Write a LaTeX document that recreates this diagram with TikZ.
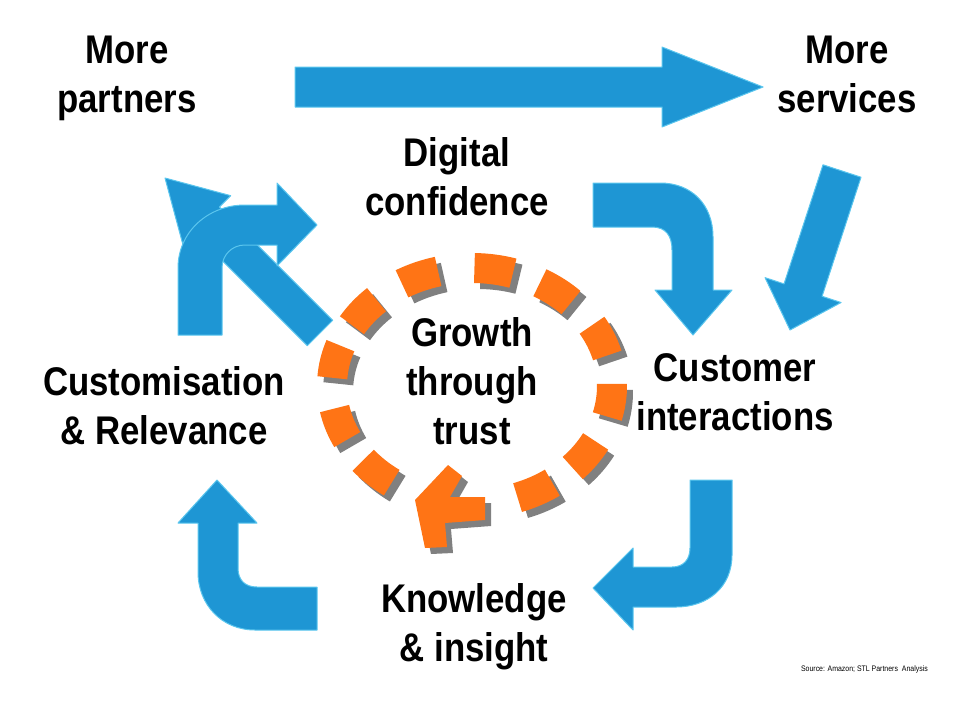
\documentclass[tikz,border=0pt]{standalone}
\usepackage{fontspec}
\setmainfont[FakeStretch=0.87]{Liberation Sans}
\usepackage{xcolor}
\usepackage{tikz}
\usetikzlibrary{positioning, calc}
\definecolor{cycleblue}{HTML}{1E96D4}
\definecolor{bevelblue}{HTML}{5BC6EE}
\definecolor{trustorange}{HTML}{FF7415}
\definecolor{dashgrey}{HTML}{808080}

\tikzset{
  cycletext/.style={font=\fontsize{40}{49}\selectfont\bfseries, align=center, inner sep=0pt},
  block arrow/.style={fill=cycleblue, draw=bevelblue, line width=1pt, line join=round},
  trust dash/.style={draw=trustorange, line width=30pt},
  trust shadow/.style={draw=dashgrey, line width=30pt},
}

% straight block arrow: tail, tip, half shaft, half head, head length
\newcommand{\flatarrow}[5]{%
  \coordinate (fa-h) at ($(#2)!#5!(#1)$);
  \filldraw[block arrow] ($(#1)!#3!90:(#2)$) -- ($(fa-h)!#3!90:(#2)$)
    -- ($(fa-h)!#4!90:(#2)$) -- (#2) -- ($(fa-h)!#4!-90:(#2)$)
    -- ($(fa-h)!#3!-90:(#2)$) -- ($(#1)!#3!-90:(#2)$) -- cycle;}

\begin{document}
\begin{tikzpicture}[x=1pt, y=-1pt]
  \useasboundingbox (0,0) rectangle (960,720);

  % labels
  \node[cycletext] (partners) at (127,78) {More\\partners};
  \node[cycletext] (services) at (847,74) {More\\services};
  \node[cycletext] (confidence) at (457,177) {Digital\\confidence};
  \node[cycletext] (interactions) at (735,392) {Customer\\interactions};
  \node[cycletext] (relevance) at (164,406) {Customisation\\\& Relevance};
  \node[cycletext] (insight) at (474,627) {Knowledge\\\& insight};
  \node[cycletext] (trust) at (472,381) {Growth\\through\\trust};
  \node[font=\fontsize{8}{9}\selectfont, anchor=east, inner sep=0pt] (source)
    at (928,669) {Source: Amazon; STL Partners\ \ Analysis};

  % straight arrows
  \coordinate (top-tail) at (295,87);
  \coordinate (top-tip) at (763,87);
  \flatarrow{top-tail}{top-tip}{20pt}{40pt}{101pt}
  \coordinate (right-tail) at (842,171);
  \coordinate (right-tip) at (790,330);
  \flatarrow{right-tail}{right-tip}{20pt}{40pt}{42pt}
  \coordinate (left-tail) at (320,333);
  \coordinate (left-tip) at (165,178);
  \flatarrow{left-tail}{left-tip}{18pt}{34pt}{59pt}

  % bent arrows
  \filldraw[block arrow] (593,183) -- (660,183) .. controls (692,183) and (713,205) .. (713,237)
    -- (713,290) -- (732,290) -- (693,335) -- (655,290) -- (672,290) -- (672,250)
    .. controls (672,236) and (666,227) .. (652,227) -- (593,227) -- cycle;
  \filldraw[block arrow] (690,480) -- (732,480) -- (732,555) .. controls (732,587) and (708,607) .. (676,607)
    -- (633,607) -- (633,630) -- (593,588) -- (633,548) -- (633,567) -- (672,567)
    .. controls (683,567) and (690,560) .. (690,548) -- cycle;
  \filldraw[block arrow] (317,587) -- (317,630) -- (255,630) .. controls (222,630) and (198,605) .. (198,572)
    -- (198,523) -- (178,523) -- (217,480) -- (257,523) -- (238,523) -- (238,568)
    .. controls (238,580) and (245,587) .. (257,587) -- cycle;
  \filldraw[block arrow] (178,335) -- (178,268) .. controls (178,232) and (208,205) .. (245,205)
    -- (277,205) -- (277,183) -- (317,225) -- (277,266) -- (277,245) -- (245,245)
    .. controls (232,245) and (222,255) .. (222,268) -- (222,335) -- cycle;

  % dashed ring
  \coordinate (ring) at (472,386);
  \foreach \a [evaluate=\a as \s using \a-8, evaluate=\a as \e using \a+8]
      in {-112,-81,-53,-23,7,36,63,133,161,-168,-141} {
    \draw[trust shadow] ($(ring)+(6,6)+(\s:140 and 118)$)
      arc[start angle=\s, end angle=\e, x radius=140, y radius=118];
    \draw[trust dash] ($(ring)+(\s:140 and 118)$)
      arc[start angle=\s, end angle=\e, x radius=140, y radius=118];
  }
  \fill[dashgrey, shift={(6,6)}] (415,500) -- (448,465) -- (462,476) -- (450,497) -- (485,497)
    -- (485,520) -- (445,523) -- (447,547) -- (425,548) -- cycle;
  \fill[trustorange] (415,500) -- (448,465) -- (462,476) -- (450,497) -- (485,497)
    -- (485,520) -- (445,523) -- (447,547) -- (425,548) -- cycle;
\end{tikzpicture}
\end{document}
